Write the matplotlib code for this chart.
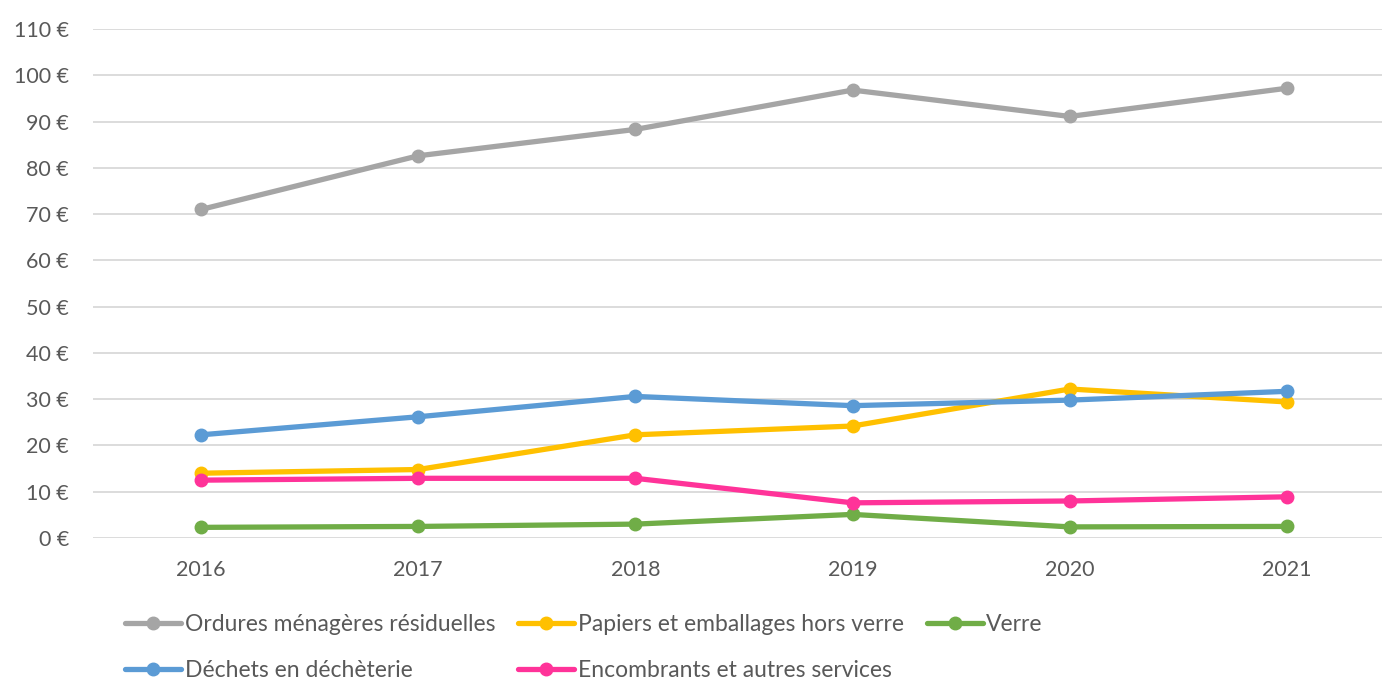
import matplotlib
matplotlib.use("Agg")
import matplotlib.pyplot as plt

years = ["2016", "2017", "2018", "2019", "2020", "2021"]

ordures     = [71.0, 82.6, 88.3, 96.8, 91.1, 97.2]
papiers     = [14.0, 14.8, 22.3, 24.2, 32.2, 29.4]
verre       = [2.3, 2.5, 3.0, 5.1, 2.4, 2.5]
decheterie  = [22.3, 26.2, 30.6, 28.6, 29.8, 31.7]
encombrants = [12.5, 12.9, 12.9, 7.6, 8.0, 8.9]

labels = ["Ordures ménagères résiduelles", "Papiers et emballages hors verre",
          "Verre", "Déchets en déchèterie", "Encombrants et autres services"]
colors = ["#A5A5A5", "#FFC000", "#70AD47", "#5B9BD5", "#FF3399"]
yticks = list(range(0, 111, 10))

plt.rcParams['font.family'] = ['Lato', 'DejaVu Sans']
TXT = "#595959"

fig = plt.figure(figsize=(13.82, 6.79), dpi=100)
ax = fig.add_axes([92.5 / 1382, (679 - 538) / 679, 1303 / 1382, 509 / 679])

x = list(range(len(years)))
series = [ordures, papiers, verre, decheterie, encombrants]
handles = []
for vals, c, lab in zip(series, colors, labels):
    h, = ax.plot(x, vals, color=c, linewidth=3.8, marker="o", markersize=9,
                 label=lab, solid_capstyle="round", clip_on=False, zorder=3)
    handles.append(h)

ax.set_xlim(-0.5, 5.5)
ax.set_ylim(0, 110)
ax.set_xticks(x)
ax.set_xticklabels(years)
ax.set_yticks(yticks)
ax.set_yticklabels(["%d €" % v for v in yticks])
ax.tick_params(axis="both", length=0, labelsize=15.5, labelcolor=TXT)
ax.tick_params(axis="x", pad=16)
ax.tick_params(axis="y", pad=17)
ax.grid(axis="y", color="#D9D9D9", linewidth=1.3)
ax.set_axisbelow(True)
for s in ax.spines.values():
    s.set_visible(False)

# legend fills column-wise: order entries so rows match the reference
order = [0, 3, 1, 4, 2]
leg = fig.legend([handles[i] for i in order], [labels[i] for i in order],
                 ncol=3, loc="upper left", bbox_to_anchor=(125 / 1382, 1 - 614 / 679),
                 frameon=False, fontsize=16.5, handlelength=2.45, handletextpad=0.15,
                 columnspacing=1.0, labelspacing=1.1, borderaxespad=0, borderpad=0)
for t in leg.get_texts():
    t.set_color(TXT)

fig.savefig("out.png", dpi=100)
